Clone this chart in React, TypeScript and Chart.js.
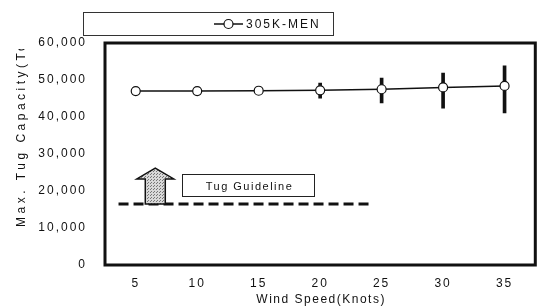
import React, { useEffect, useRef } from 'react';
import { Chart, registerables } from 'chart.js';

Chart.register(...registerables);

// ---- data ----
const WIND_SPEEDS = [5, 10, 15, 20, 25, 30, 35];
const CAPACITY = [47000, 47000, 47100, 47200, 47500, 48000, 48400];
const ERR_LOW = [null, null, null, 45100, 43800, 42400, 41100];
const ERR_HIGH = [null, null, null, 49200, 50500, 51900, 53800];
const Y_TICKS = [0, 10000, 20000, 30000, 40000, 50000, 60000];
const X_MIN = 2.5;
const X_MAX = 37.5;
const GUIDELINE_X = [3.6, 24.2];
const GUIDELINE_VALUE = 16500;
const SERIES_LABEL = '305K-MEN';
const GUIDE_LABEL = 'Tug Guideline';
const X_TITLE = 'Wind Speed(Knots)';
const Y_TITLE = 'Max. Tug Capacity(Ton)';
// annotation anchors in data units
const ARROW_X = 6.59;
const ARROW_TOP = 26200;
const ARROW_HEAD_BASE = 23250;
const GUIDE_BOX_X = [8.74, 19.5];
const GUIDE_BOX_Y = [18650, 24600];

const FONT = '"Liberation Sans", Arial, Helvetica, sans-serif';
const INK = '#111';

function makePattern(ctx: CanvasRenderingContext2D) {
  const c = document.createElement('canvas');
  c.width = 3;
  c.height = 3;
  const p = c.getContext('2d')!;
  p.fillStyle = '#d8d8d8';
  p.fillRect(0, 0, 3, 3);
  p.fillStyle = '#777';
  p.fillRect(0, 0, 1, 1);
  p.fillRect(1, 2, 1, 1);
  return ctx.createPattern(c, 'repeat');
}

const decorPlugin = {
  id: 'decor',
  beforeLayout(chart: any) {
    chart.ctx.letterSpacing = '2px';
  },
  beforeDraw(chart: any) {
    chart.ctx.letterSpacing = '2px';
  },
  afterDatasetsDraw(chart: any) {
    const ctx: CanvasRenderingContext2D = chart.ctx;
    const xs = chart.scales.x;
    const ys = chart.scales.y;
    const a = chart.chartArea;
    ctx.save();
    // plot frame
    ctx.strokeStyle = INK;
    ctx.lineWidth = 3;
    ctx.strokeRect(a.left, a.top, a.right - a.left, a.bottom - a.top);

    // arrow
    const cx = xs.getPixelForValue(ARROW_X);
    const top = ys.getPixelForValue(ARROW_TOP);
    const hb = ys.getPixelForValue(ARROW_HEAD_BASE);
    const bot = ys.getPixelForValue(GUIDELINE_VALUE);
    const hw = 18.5;
    const sw = 10;
    ctx.beginPath();
    ctx.moveTo(cx, top);
    ctx.lineTo(cx + hw, hb);
    ctx.lineTo(cx + sw, hb);
    ctx.lineTo(cx + sw, bot);
    ctx.lineTo(cx - sw, bot);
    ctx.lineTo(cx - sw, hb);
    ctx.lineTo(cx - hw, hb);
    ctx.closePath();
    ctx.fillStyle = makePattern(ctx) || '#ccc';
    ctx.fill();
    ctx.lineWidth = 1.5;
    ctx.strokeStyle = INK;
    ctx.stroke();

    // guideline box
    const bx0 = Math.round(xs.getPixelForValue(GUIDE_BOX_X[0])) + 0.5;
    const bx1 = Math.round(xs.getPixelForValue(GUIDE_BOX_X[1])) + 0.5;
    const by0 = Math.round(ys.getPixelForValue(GUIDE_BOX_Y[1])) + 0.5;
    const by1 = Math.round(ys.getPixelForValue(GUIDE_BOX_Y[0])) + 0.5;
    ctx.fillStyle = '#fff';
    ctx.fillRect(bx0, by0, bx1 - bx0, by1 - by0);
    ctx.lineWidth = 1;
    ctx.strokeStyle = '#222';
    ctx.strokeRect(bx0, by0, bx1 - bx0, by1 - by0);
    ctx.fillStyle = INK;
    ctx.font = `11px ${FONT}`;
    (ctx as any).letterSpacing = '1.5px';
    ctx.textAlign = 'center';
    ctx.textBaseline = 'middle';
    ctx.fillText(GUIDE_LABEL, (bx0 + bx1) / 2 + 1, (by0 + by1) / 2 + 1);
    ctx.restore();
  },
  afterDraw(chart: any) {
    const ctx: CanvasRenderingContext2D = chart.ctx;
    const a = chart.chartArea;
    ctx.save();
    // legend box
    ctx.lineWidth = 1;
    ctx.strokeStyle = '#333';
    ctx.strokeRect(83.5, 12.5, 250, 23);
    ctx.strokeStyle = INK;
    ctx.lineWidth = 1.5;
    ctx.beginPath();
    ctx.moveTo(214, 24);
    ctx.lineTo(243, 24);
    ctx.stroke();
    ctx.beginPath();
    ctx.arc(228.5, 24, 4.5, 0, Math.PI * 2);
    ctx.fillStyle = '#fff';
    ctx.fill();
    ctx.lineWidth = 1.2;
    ctx.stroke();
    ctx.fillStyle = INK;
    ctx.font = `12px ${FONT}`;
    (ctx as any).letterSpacing = '2px';
    ctx.textAlign = 'left';
    ctx.textBaseline = 'middle';
    ctx.fillText(chart.data.datasets[0].label, 246, 24.5);

    // x title
    (ctx as any).letterSpacing = '1.5px';
    ctx.textAlign = 'center';
    ctx.fillText(X_TITLE, (a.left + a.right) / 2 + 1, 300);

    // y title (clipped at the top like the reference)
    ctx.beginPath();
    ctx.rect(0, 49, 60, 307);
    ctx.clip();
    (ctx as any).letterSpacing = '3.5px';
    ctx.translate(22, 227);
    ctx.rotate(-Math.PI / 2);
    ctx.textAlign = 'left';
    ctx.fillText(Y_TITLE, 0, 0);
    ctx.restore();
  },
};

export default function App() {
  const ref = useRef<HTMLCanvasElement | null>(null);
  useEffect(() => {
    const canvas = ref.current!;
    const chart = new Chart(canvas, {
      type: 'line',
      data: {
        datasets: [
          {
            type: 'line',
            label: SERIES_LABEL,
            data: WIND_SPEEDS.map((x, i) => ({ x, y: CAPACITY[i] })),
            borderColor: INK,
            borderWidth: 1.5,
            pointRadius: 4.5,
            pointBackgroundColor: '#fff',
            pointBorderColor: INK,
            pointBorderWidth: 1.2,
            order: 1,
          } as any,
          {
            type: 'bar',
            label: 'range',
            data: WIND_SPEEDS.map((x, i) =>
              ERR_LOW[i] == null ? null : { x, y: [ERR_LOW[i], ERR_HIGH[i]] }
            ).filter((d) => d !== null),
            backgroundColor: INK,
            barThickness: 3,
            order: 2,
          } as any,
          {
            type: 'line',
            label: GUIDE_LABEL,
            data: GUIDELINE_X.map((x) => ({ x, y: GUIDELINE_VALUE })),
            borderColor: INK,
            borderWidth: 3,
            borderDash: [10, 5],
            pointRadius: 0,
            order: 3,
          } as any,
        ],
      },
      options: {
        animation: false,
        responsive: false,
        events: [],
        layout: { padding: { top: 43, right: 4, left: 0, bottom: 0 } },
        plugins: {
          legend: { display: false },
          tooltip: { enabled: false },
        },
        scales: {
          x: {
            type: 'linear',
            min: X_MIN,
            max: X_MAX,
            offset: false,
            afterBuildTicks: (s: any) => {
              s.ticks = WIND_SPEEDS.map((v) => ({ value: v }));
            },
            afterFit: (s: any) => {
              s.height = 42;
            },
            grid: { display: false, drawTicks: false },
            border: { display: false },
            ticks: {
              color: INK,
              font: { family: FONT, size: 12 },
              padding: 11,
              maxRotation: 0,
              autoSkip: false,
              callback: (v: any) => String(v),
            },
          },
          y: {
            min: 0,
            max: 60000,
            afterBuildTicks: (s: any) => {
              s.ticks = Y_TICKS.map((v) => ({ value: v }));
            },
            afterFit: (s: any) => {
              s.width = 105;
            },
            grid: { display: false, drawTicks: false },
            border: { display: false },
            ticks: {
              color: INK,
              font: { family: FONT, size: 12 },
              padding: 18,
              callback: (v: any) => Number(v).toLocaleString('en-US'),
            },
          },
        },
      },
      plugins: [decorPlugin as any],
    });
    return () => chart.destroy();
  }, []);
  return (
    <div style={{ position: 'fixed', left: 0, top: 0, width: 541, height: 307, background: '#fff' }}>
      <canvas ref={ref} width={541} height={307} style={{ display: 'block', width: 541, height: 307 }} />
    </div>
  );
}
